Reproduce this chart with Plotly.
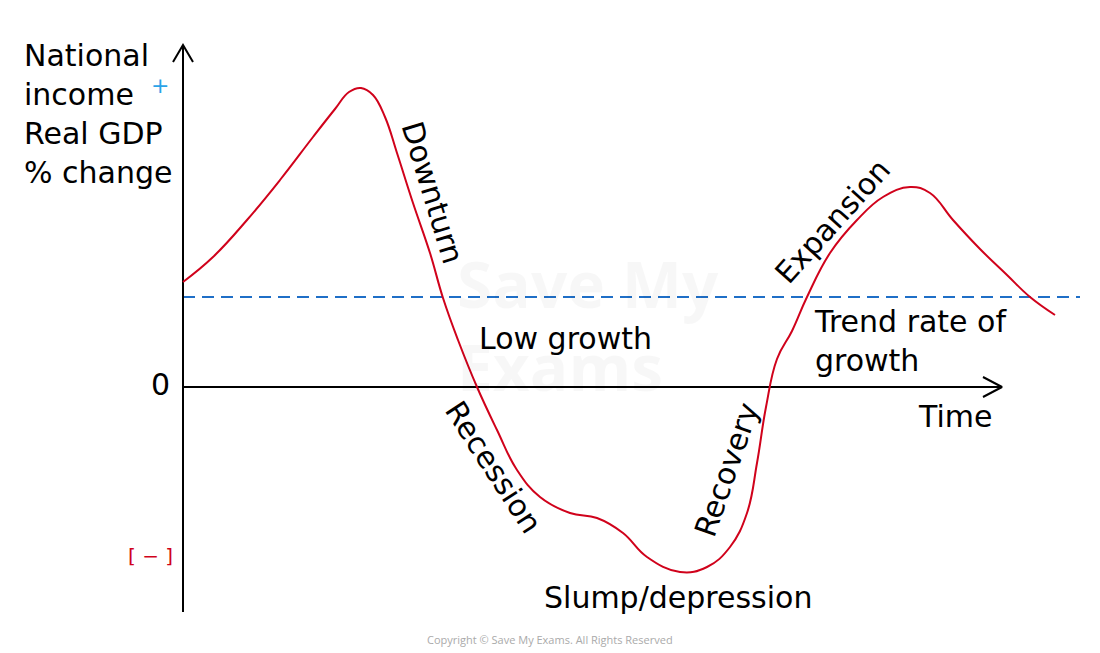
import plotly.graph_objects as go

# ---- data (arbitrary units: time, output growth) ----
time = [0, 3.0, 6.4, 9.7, 13.0, 15.2, 16.6, 17.8, 19.0, 20.2, 21.4, 23.0, 24.7, 26.0, 27.5,
        29.4, 31.4, 33.4, 35.7, 38.7, 41.4, 44.0, 46.4, 49.7, 52.4, 54.7, 56.4, 57.4,
        58.3, 59.4, 60.9, 62.4, 64.7, 67.4, 70.0, 72.7, 74.7, 77.0, 79.7, 82.4,
        84.7, 87.2]
growth = [10.5, 13.0, 16.7, 20.7, 25.0, 27.8, 29.5, 29.9, 29.2, 27.0, 23.4, 18.4, 13.4, 8.9, 4.7,
          0.0, -4.3, -8.3, -11.0, -12.6, -13.1, -14.6, -17.0, -18.5, -18.0, -16.0, -12.6, -7.6,
          -2.0, 2.8, 5.6, 9.0, 13.4, 16.7, 19.0, 20.0, 19.4, 16.7, 13.8, 11.2,
          9.0, 7.2]
trend_level = 9.0
trend_span = [0, 89.7]
x_axis_span = [0, 81.7]
y_axis_span = [-22.5, 34.2]

phase_labels = ["Downturn", "Low growth", "Recession", "Slump/depression",
                "Recovery", "Expansion"]
phase_x = [25.0, 38.2, 31.1, 49.5, 54.3, 64.9]
phase_y = [19.5, 4.9, -8.0, -21.0, -8.3, 16.6]
phase_angle = [73, 0, 57, 0, -71, -48]

FONT = "DejaVu Sans"
FS = 30
RED = "#d0021b"
BLUE = "#1f6fc7"

fig = go.Figure()

# trend line
fig.add_trace(go.Scatter(x=trend_span, y=[trend_level, trend_level], mode="lines",
                         line=dict(color=BLUE, width=2, dash="12px,7px"),
                         hoverinfo="skip", showlegend=False))
# axes
fig.add_trace(go.Scatter(x=x_axis_span, y=[0, 0], mode="lines",
                         line=dict(color="black", width=2), showlegend=False, hoverinfo="skip"))
fig.add_trace(go.Scatter(x=[0, 0], y=y_axis_span, mode="lines",
                         line=dict(color="black", width=2), showlegend=False, hoverinfo="skip"))
# arrow heads (open chevrons)
xa = x_axis_span[1] + 0.2
fig.add_trace(go.Scatter(x=[xa - 1.9, xa, xa - 1.9], y=[1.0, 0, -1.0], mode="lines",
                         line=dict(color="black", width=2), showlegend=False, hoverinfo="skip"))
ya = y_axis_span[1]
fig.add_trace(go.Scatter(x=[-1.0, 0, 1.0], y=[ya - 1.7, ya, ya - 1.7], mode="lines",
                         line=dict(color="black", width=2), showlegend=False, hoverinfo="skip"))

# cycle curve
fig.add_trace(go.Scatter(x=time, y=growth, mode="lines",
                         line=dict(color=RED, width=2, shape="spline", smoothing=1.2),
                         showlegend=False, hoverinfo="skip"))

ann = []
# watermark
ann.append(dict(x=40.5, y=6.2, text="<b>Save My<br>Exams</b>", showarrow=False,
                font=dict(family="Open Sans", size=64, color="rgba(0,0,0,0.03)"),
                align="left"))
ann.append(dict(x=-16.1, y=27.35, text="National<br>income<br>Real GDP<br>% change",
                showarrow=False, xanchor="left", yanchor="middle", align="left",
                font=dict(family=FONT, size=FS, color="black")))
ann.append(dict(x=-2.3, y=30.2, text="+", showarrow=False,
                font=dict(family=FONT, size=22, color="#2aa3e8")))
ann.append(dict(x=-2.3, y=0.3, text="0", showarrow=False,
                font=dict(family=FONT, size=FS, color="black")))
ann.append(dict(x=-3.3, y=-16.9, text="[ − ]", showarrow=False,
                font=dict(family=FONT, size=20, color=RED)))
for t, x, y, a in zip(phase_labels, phase_x, phase_y, phase_angle):
    ann.append(dict(x=x, y=y, text=t, showarrow=False, textangle=a,
                    font=dict(family=FONT, size=FS, color="black")))
ann.append(dict(x=62.9, y=4.65, text="Trend rate of<br>growth", showarrow=False,
                xanchor="left", yanchor="middle", align="left",
                font=dict(family=FONT, size=FS, color="black")))
ann.append(dict(x=77.2, y=-2.9, text="Time", showarrow=False,
                font=dict(family=FONT, size=FS, color="black")))
ann.append(dict(x=36.7, y=-25.2, text="Copyright © Save My Exams. All Rights Reserved",
                showarrow=False, font=dict(family="Open Sans", size=11, color="#aaaaaa")))

fig.update_layout(
    width=1100, height=653,
    margin=dict(l=0, r=0, t=0, b=0),
    paper_bgcolor="white", plot_bgcolor="white",
    xaxis=dict(range=[-18.3, 91.7], visible=False, fixedrange=True),
    yaxis=dict(range=[-26.6, 38.7], visible=False, fixedrange=True),
    annotations=ann,
    showlegend=False,
)

fig.write_html("out.html")
